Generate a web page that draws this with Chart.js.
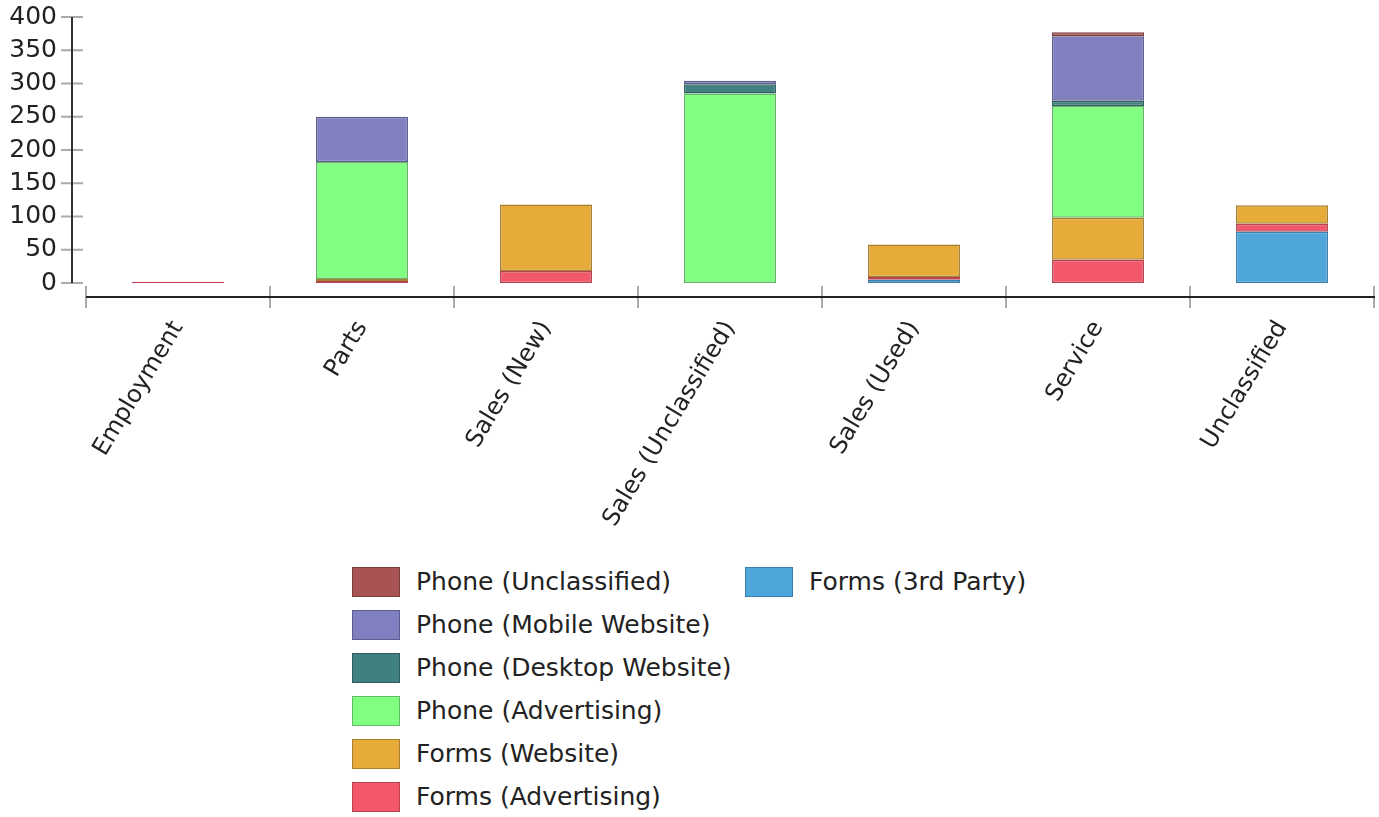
<!DOCTYPE html>
<html>
<head>
<meta charset="utf-8">
<script src="https://cdn.jsdelivr.net/npm/chart.js@4"></script>
<style>
  body { margin: 0; background: #fff; font-family: "DejaVu Sans", sans-serif; }
  #wrap { position: relative; width: 1379px; height: 817px; }
  #chart_box { position: absolute; left: 0; top: 0; width: 1379px; height: 560px; }
  #legend {
    position: absolute; left: 352px; top: 560px;
    display: grid; grid-auto-flow: column;
    grid-template-rows: repeat(6, 43px);
    grid-template-columns: 393px auto;
  }
  .item { display: flex; align-items: center; font-size: 25px; color: #222; }
  .swatch { width: 46px; height: 28px; border: 1px solid rgba(60,60,60,0.6); margin-right: 16px; }
</style>
</head>
<body>
<div id="wrap">
  <div id="chart_box"><canvas id="my_chart"></canvas></div>
  <div id="legend"></div>
</div>
<script>
var categories = ["Employment", "Parts", "Sales (New)", "Sales (Unclassified)", "Sales (Used)", "Service", "Unclassified"];

// stacked from the bottom up
var forms3rdParty     = [0, 0, 0, 0, 5, 0, 77];
var formsAdvertising  = [2, 3, 18, 0, 4, 35, 12];
var formsWebsite      = [0, 3, 100, 0, 49, 63, 28];
var phoneAdvertising  = [0, 176, 0, 285, 0, 168, 0];
var phoneDesktop      = [0, 0, 0, 14, 0, 8, 0];
var phoneMobile       = [0, 68, 0, 5, 0, 97, 0];
var phoneUnclassified = [0, 0, 0, 0, 0, 6, 0];

var yMin = 0, yMax = 400, yStep = 50;

function ds(label, data, bg, border) {
    return {
        label: label,
        data: data,
        backgroundColor: bg,
        borderColor: border,
        borderWidth: 1.5,
        borderSkipped: false,
        barPercentage: 0.5,
        categoryPercentage: 1.0
    };
}

// draws the axis lines and tick marks off the chart's scales
var axisLines = {
    id: 'axisLines',
    afterDraw: function (chart) {
        var ctx = chart.ctx, xs = chart.scales.x, ys = chart.scales.y, a = chart.chartArea;
        var yx = a.left - 14, base = ys.getPixelForValue(0) + 14;
        function line(x1, y1, x2, y2) { ctx.beginPath(); ctx.moveTo(x1, y1); ctx.lineTo(x2, y2); ctx.stroke(); }
        ctx.save();
        ctx.lineWidth = 2;
        ctx.strokeStyle = '#aaa';
        ys.ticks.forEach(function (t) {
            var py = ys.getPixelForValue(t.value);
            line(yx - 11, py, yx + 11, py);
        });
        for (var i = 0; i <= categories.length; i++) {
            var px = xs.getPixelForValue(i - 0.5);
            line(px, base - 11, px, base + 11);
        }
        ctx.strokeStyle = '#333';
        line(yx, ys.getPixelForValue(yMax), yx, ys.getPixelForValue(yMin));
        ctx.strokeStyle = '#222';
        line(xs.getPixelForValue(-0.5), base, xs.getPixelForValue(categories.length - 0.5) + 1, base);
        ctx.restore();
    }
};

var ctx = document.getElementById("my_chart").getContext("2d");

var chart = new Chart(ctx, {
    type: 'bar',
    data: {
        labels: categories,
        datasets: [
            ds("Forms (3rd Party)", forms3rdParty, "#4fa6da", "#3b7fad"),
            ds("Forms (Advertising)", formsAdvertising, "#f2576a", "#b84452"),
            ds("Forms (Website)", formsWebsite, "#e6ab38", "#a98030"),
            ds("Phone (Advertising)", phoneAdvertising, "#80ff80", "#66b866"),
            ds("Phone (Desktop Website)", phoneDesktop, "#408080", "#2e5e5e"),
            ds("Phone (Mobile Website)", phoneMobile, "#8080c0", "#5c5c8e"),
            ds("Phone (Unclassified)", phoneUnclassified, "#a85454", "#7e3e3e")
        ]
    },
    options: {
        responsive: true,
        maintainAspectRatio: false,
        animation: false,
        layout: { padding: { top: 0, right: 5, bottom: 0, left: 0 } },
        plugins: {
            legend: { display: false },
            tooltip: { enabled: false }
        },
        scales: {
            x: {
                stacked: true,
                grid: { display: false, drawTicks: true, tickLength: 31 },
                border: { display: false },
                ticks: {
                    autoSkip: false,
                    maxRotation: 59,
                    minRotation: 59,
                    padding: 2,
                    color: '#222',
                    font: { family: 'DejaVu Sans', size: 24 }
                },
                afterFit: function (scale) { scale.height = 277; }
            },
            y: {
                stacked: true,
                min: yMin,
                max: yMax,
                grid: { display: false, drawTicks: true, tickLength: 27 },
                border: { display: false },
                ticks: {
                    stepSize: yStep,
                    padding: 2,
                    color: '#222',
                    font: { family: 'DejaVu Sans', size: 25 }
                },
                afterFit: function (scale) { scale.width = 86; }
            }
        }
    },
    plugins: [axisLines]
});

// legend in two columns, top series first
var legend = document.getElementById("legend");
chart.data.datasets.slice().reverse().forEach(function (d) {
    var item = document.createElement("div");
    item.className = "item";
    var sw = document.createElement("span");
    sw.className = "swatch";
    sw.style.background = d.backgroundColor;
    sw.style.borderColor = d.borderColor;
    item.appendChild(sw);
    item.appendChild(document.createTextNode(d.label));
    legend.appendChild(item);
});
</script>
</body>
</html>
